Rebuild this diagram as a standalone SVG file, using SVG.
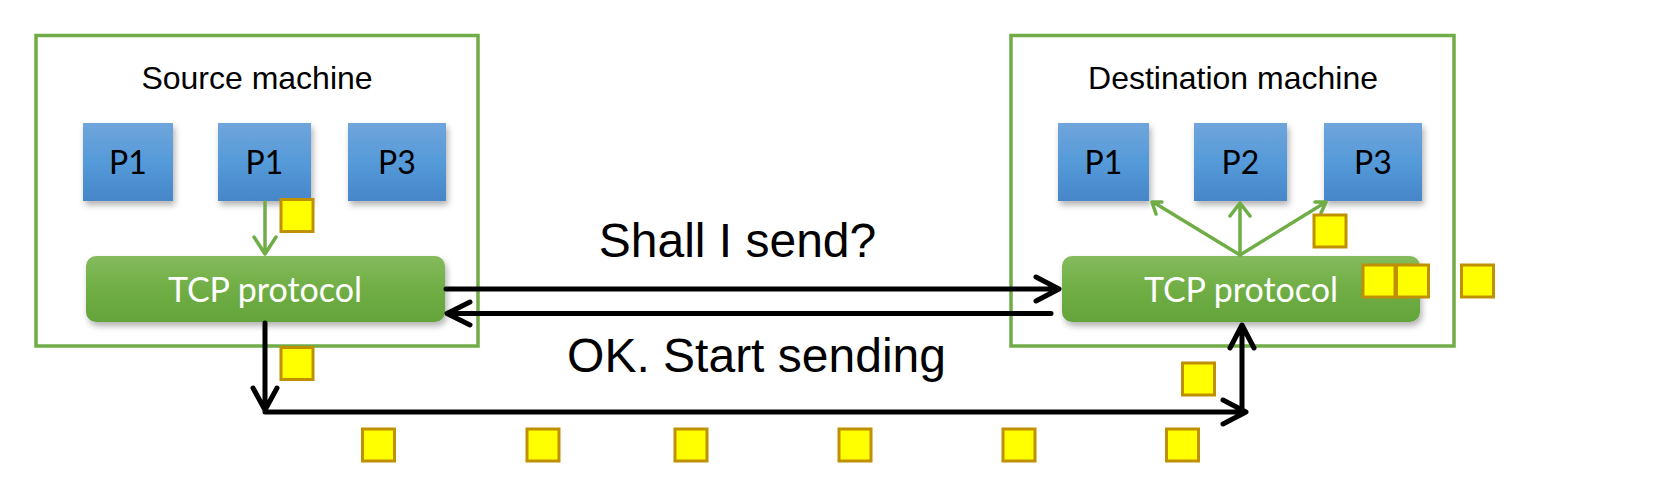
<svg xmlns="http://www.w3.org/2000/svg" width="1666" height="480" viewBox="0 0 1666 480">
<defs>
<linearGradient id="gBlue" x1="0" y1="0" x2="0" y2="1">
<stop offset="0" stop-color="#6fa5db"/>
<stop offset="0.5" stop-color="#559ad9"/>
<stop offset="1" stop-color="#4686c9"/>
</linearGradient>
<linearGradient id="gGreen" x1="0" y1="0" x2="0" y2="1">
<stop offset="0" stop-color="#85bb5d"/>
<stop offset="0.5" stop-color="#70ae45"/>
<stop offset="1" stop-color="#64a43b"/>
</linearGradient>
<filter id="sh" x="-10%" y="-10%" width="125%" height="135%">
<feDropShadow dx="2" dy="4" stdDeviation="3" flood-color="#000" flood-opacity="0.3"/>
</filter>
<style>
.frame{fill:none;stroke:#70ad47;stroke-width:3.5}
.proc{fill:url(#gBlue);filter:url(#sh)}
.tcp{fill:url(#gGreen);filter:url(#sh)}
.ptxt{font-family:Lato,"Open Sans",sans-serif;font-size:32px;fill:#000;text-anchor:middle}
.ttxt{font-family:Lato,"Open Sans",sans-serif;font-size:34px;fill:#fff;text-anchor:middle}
.title{font-family:"Liberation Sans",Arial,sans-serif;font-size:32px;fill:#000;text-anchor:middle}
.msg{font-family:"Liberation Sans",Arial,sans-serif;font-size:48px;fill:#000;text-anchor:middle}
.blk{fill:none;stroke:#000;stroke-width:5;stroke-linecap:round;stroke-linejoin:round}
.grn{fill:none;stroke:#70ad47;stroke-width:3.5;stroke-linecap:round;stroke-linejoin:round}
.pkt{fill:#ffff00;stroke:#bf9000;stroke-width:3}
</style>
</defs>
<rect width="1666" height="480" fill="#fff"/>

<g id="source-machine">
<rect class="frame" x="36" y="35.5" width="442" height="310.5"/>
<text class="title" x="257" y="89">Source machine</text>
</g>
<g id="src-p1a"><rect class="proc" x="83" y="123" width="90" height="78"/><text class="ptxt" x="128" y="174">P1</text></g>
<g id="src-p1b"><rect class="proc" x="218" y="123" width="93" height="78"/><text class="ptxt" x="264.5" y="174">P1</text></g>
<g id="src-p3"><rect class="proc" x="348" y="123" width="98" height="78"/><text class="ptxt" x="397" y="174">P3</text></g>
<g id="src-tcp"><rect class="tcp" x="86" y="256" width="359" height="66" rx="10"/><text class="ttxt" x="265" y="302">TCP protocol</text></g>

<g id="destination-machine">
<rect class="frame" x="1011" y="35.5" width="443" height="310.5"/>
<text class="title" x="1233" y="89">Destination machine</text>
</g>
<g id="dst-p1"><rect class="proc" x="1058" y="123" width="91" height="78"/><text class="ptxt" x="1103.5" y="174">P1</text></g>
<g id="dst-p2"><rect class="proc" x="1194" y="123" width="93" height="78"/><text class="ptxt" x="1240.5" y="174">P2</text></g>
<g id="dst-p3"><rect class="proc" x="1324" y="123" width="98" height="78"/><text class="ptxt" x="1373" y="174">P3</text></g>
<g id="dst-tcp"><rect class="tcp" x="1062" y="256" width="358" height="66" rx="10"/><text class="ttxt" x="1241" y="302">TCP protocol</text></g>

<g id="connectors">
<path class="grn" d="M265,202 V254 M254,237 L265,254 L276,237"/>
<path class="grn" d="M1240,255 L1153,202 M1162,202 L1152,202 L1156,214"/>
<path class="grn" d="M1240,255 V203 M1230,216 L1240,203 L1250,216"/>
<path class="grn" d="M1240,255 L1326,202 M1315,202 L1326,202 L1321,213"/>
<path class="blk" d="M446,289 H1058 M1036,277 L1059,289 L1036,301"/>
<path class="blk" d="M1051,313.5 H448 M470,302 L447,313.5 L470,325"/>
<path class="blk" d="M265,323 V410 M253,388 L265,410 L277,388"/>
<path class="blk" d="M265,412 H1245 M1223,400 L1246,412 L1223,424"/>
<path class="blk" d="M1242,412 V326 M1230,348 L1242,325 L1254,348"/>
</g>

<g id="messages">
<text class="msg" x="737.5" y="256.5">Shall I send?</text>
<text class="msg" x="756.5" y="371.5">OK. Start sending</text>
</g>

<g id="packets">
<rect class="pkt" x="281" y="199.5" width="32" height="32"/>
<rect class="pkt" x="281" y="347.5" width="32" height="32"/>
<rect class="pkt" x="362.5" y="429" width="32" height="32"/>
<rect class="pkt" x="527" y="429" width="32" height="32"/>
<rect class="pkt" x="675" y="429" width="32" height="32"/>
<rect class="pkt" x="839" y="429" width="32" height="32"/>
<rect class="pkt" x="1003" y="429" width="32" height="32"/>
<rect class="pkt" x="1166.5" y="429" width="32" height="32"/>
<rect class="pkt" x="1182.5" y="363" width="32" height="32"/>
<rect class="pkt" x="1314" y="215" width="32" height="32"/>
<rect class="pkt" x="1363" y="265" width="32" height="32"/>
<rect class="pkt" x="1396.5" y="265" width="32" height="32"/>
<rect class="pkt" x="1461.5" y="265" width="32" height="32"/>
</g>
</svg>
